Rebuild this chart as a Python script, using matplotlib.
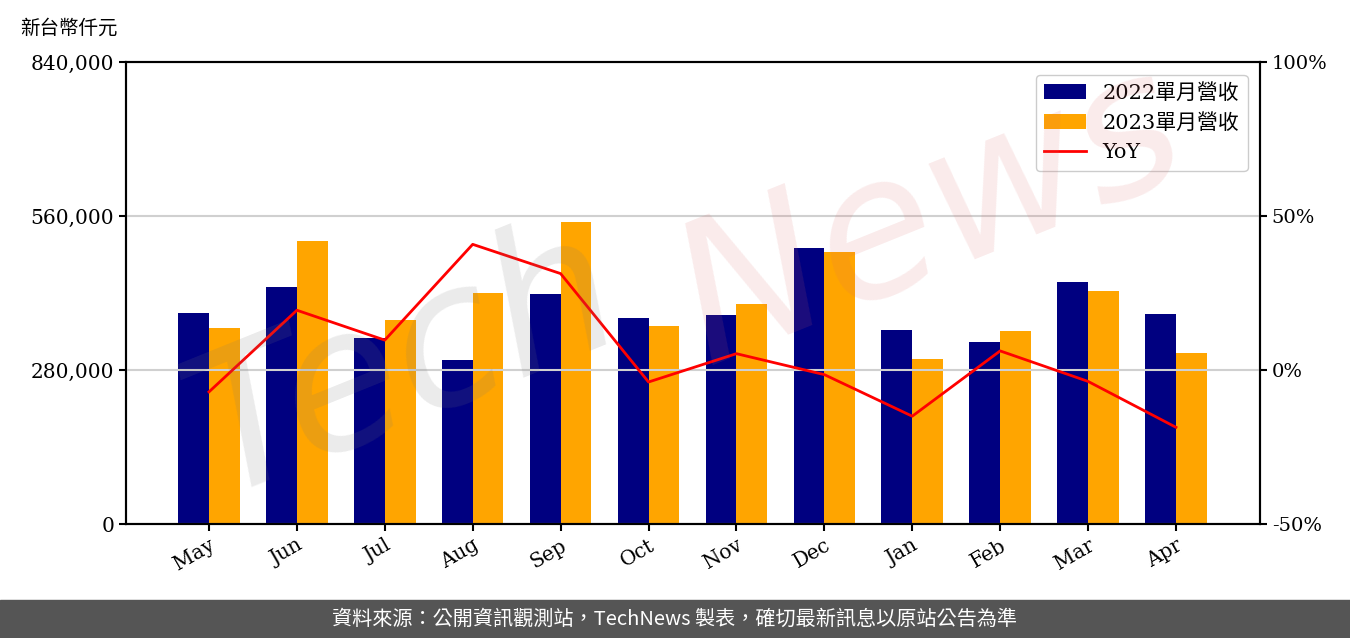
import matplotlib.pyplot as plt
import matplotlib.ticker as mticker
import numpy as np

plt.rcParams['font.family'] = ['DejaVu Serif', 'Noto Sans CJK TC']

months = ["May", "Jun", "Jul", "Aug", "Sep", "Oct", "Nov", "Dec", "Jan", "Feb", "Mar", "Apr"]
rev_2022 = [383600, 430900, 338200, 298200, 418200, 374500, 380000, 501800, 352700, 330900, 440000, 381800]
rev_2023 = [356400, 514500, 370900, 420000, 549100, 360000, 400000, 494500, 300000, 350900, 423600, 310900]
yoy = [-7.1, 19.4, 9.7, 40.8, 31.3, -3.9, 5.3, -1.5, -15.0, 6.2, -3.7, -18.6]

x = np.arange(len(months))
w = 0.35

fig = plt.figure(figsize=(13.5, 6.38), dpi=100)
ax = fig.add_axes([126/1350, 1-524/638, (1260-126)/1350, (524-62)/638])
ax2 = ax.twinx()

ax.bar(x - w/2, rev_2022, w, color="#000080", label="2022單月營收")
ax.bar(x + w/2, rev_2023, w, color="#FFA500", label="2023單月營收")
ax2.plot(x, yoy, color="red", lw=2, label="YoY")

ax.set_ylim(0, 840000)
ax.set_yticks([0, 280000, 560000, 840000])
ax.yaxis.set_major_formatter(mticker.FuncFormatter(lambda v, p: f"{int(v):,}"))
ax.set_xlim(-0.944, 11.956)
ax.set_xticks(x)
ax.set_xticklabels(months, rotation=30, ha="right", rotation_mode="anchor")
ax.tick_params(labelsize=14.5, width=1.5, length=5)
for s in ax.spines.values():
    s.set_linewidth(1.5)

ax2.set_ylim(-50, 100)
ax2.set_yticks([-50, 0, 50, 100])
ax2.yaxis.set_major_formatter(mticker.FuncFormatter(lambda v, p: f"{int(v)}%"))
ax2.tick_params(labelsize=14, width=1.5, length=5)
ax2.grid(axis="y", color="#d0d0d0", lw=1.5)
ax2.set_axisbelow(True)
for s in ax2.spines.values():
    s.set_linewidth(1.5)

h1, l1 = ax.get_legend_handles_labels()
h2, l2 = ax2.get_legend_handles_labels()
ax2.legend(h1 + h2, l1 + l2, loc="upper right", fontsize=15, framealpha=1,
           borderaxespad=0.6)

fig.text(20/1350, 1-28/638, "新台幣仟元", fontsize=14, va="center", ha="left",
         family=["Noto Sans CJK TC"])

# watermark
fig.text(0.30, 0.43, "Tech", fontsize=140, color="#777777", alpha=0.15, style="italic",
         rotation=22, ha="center", va="center", family="DejaVu Sans")
fig.text(0.69, 0.66, "News", fontsize=140, color="#dd6666", alpha=0.13, style="italic",
         rotation=22, ha="center", va="center", family="DejaVu Sans")

# footer band
fig.patches.append(plt.Rectangle((0, 0), 1, 38/638, transform=fig.transFigure,
                                 color="#555555", zorder=0))
fig.text(0.5, 19/638, "資料來源：公開資訊觀測站，TechNews 製表，確切最新訊息以原站公告為準",
         color="white", fontsize=14.5, ha="center", va="center", family=["Noto Sans CJK TC"])

fig.savefig("out.png", dpi=100)
